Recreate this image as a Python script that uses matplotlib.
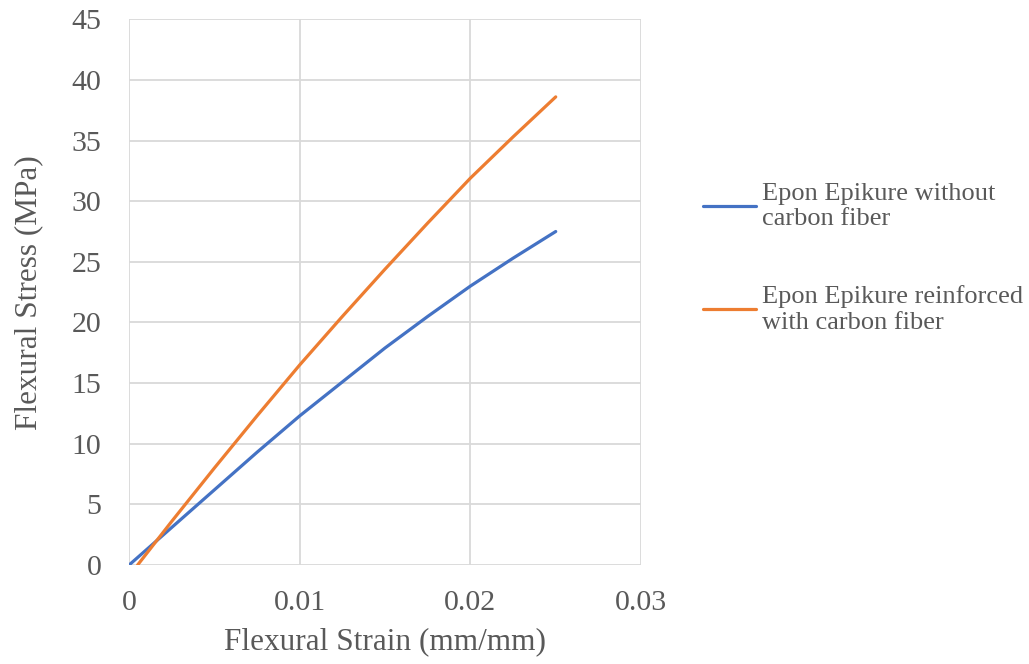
import numpy as np
import matplotlib.pyplot as plt

plt.rcParams['font.family'] = ['Liberation Serif', 'DejaVu Serif']

# 读图估计的数据
strain_plain = [0, 0.0025, 0.005, 0.0075, 0.01, 0.0125, 0.015, 0.0175, 0.02, 0.0225, 0.025]
stress_plain = [0, 3.1, 6.2, 9.3, 12.3, 15.1, 17.9, 20.5, 23.0, 25.3, 27.5]

strain_cf = [0.0005, 0.0025, 0.005, 0.0075, 0.01, 0.0125, 0.015, 0.0175, 0.02, 0.0225, 0.025]
stress_cf = [0, 3.6, 8.0, 12.3, 16.5, 20.5, 24.4, 28.2, 31.9, 35.3, 38.6]

labels = ['Epon Epikure without\ncarbon fiber', 'Epon Epikure reinforced\nwith carbon fiber']
xticks = [0, 0.01, 0.02, 0.03]
yticks = list(range(0, 50, 5))

grey = '#595959'
fig = plt.figure(figsize=(10.29, 6.64), dpi=100)
ax = fig.add_axes([0.1254, 0.149, 0.4976, 0.822])

ax.plot(strain_plain, stress_plain, color='#4472C4', lw=2.3, label=labels[0], solid_capstyle='round')
ax.plot(strain_cf, stress_cf, color='#ED7D31', lw=2.3, label=labels[1], solid_capstyle='round')

ax.set_xlim(0, 0.03)
ax.set_ylim(0, 45)
ax.set_xticks(xticks)
ax.set_xticklabels(['0', '0.01', '0.02', '0.03'])
ax.set_yticks(yticks)
ax.grid(True, color='#d9d9d9', lw=1.3)
ax.set_axisbelow(True)
for s in ax.spines.values():
    s.set_visible(False)
ax.tick_params(length=0, labelsize=21.5, labelcolor=grey)
ax.tick_params(axis='y', pad=20)
ax.tick_params(axis='x', pad=18)
ax.set_xlabel('Flexural Strain (mm/mm)', fontsize=22.5, color=grey, labelpad=8)
ax.set_ylabel('Flexural Stress (MPa)', fontsize=22.5, color=grey, labelpad=20)

fig.legend(loc='center left', bbox_to_anchor=(0.66, 0.611), frameon=False,
           fontsize=19, labelcolor=grey, handlelength=2.0, handletextpad=0.25,
           labelspacing=2.1)

fig.savefig('out.png', dpi=100)
